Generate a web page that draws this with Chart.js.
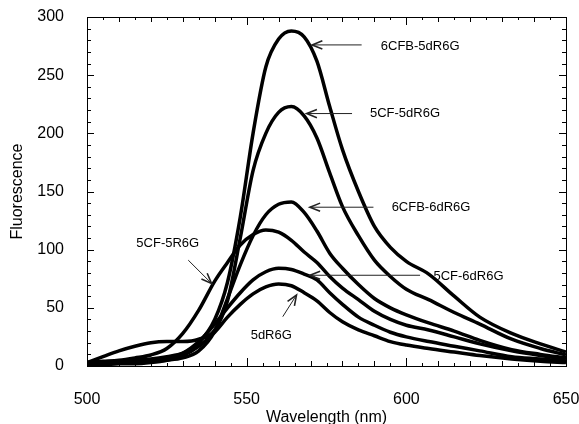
<!DOCTYPE html>
<html>
<head>
<meta charset="utf-8">
<script src="https://cdn.jsdelivr.net/npm/chart.js@4/dist/chart.umd.min.js"></script>
<style>
  body { margin: 0; background: #fff; }
</style>
</head>
<body>
<canvas id="grafico" width="579" height="424"></canvas>
<script>
// Comprimentos de onda (nm)
const wavelengths = [500, 505, 510, 515, 520, 525, 530, 535, 540, 544, 548, 552, 556, 560, 564, 568, 572, 576, 580, 585, 590, 595, 600, 607, 615, 623, 633, 642, 650];

// Fluorescência de cada sonda
const fl6CFB5dR6G = [3, 3, 4, 5, 6, 8, 11, 20, 40, 72, 128, 200, 257, 281, 288, 283, 262, 223, 186, 150, 120, 102, 90, 79, 60, 42, 28, 19, 12];
const fl5CF5dR6G  = [3, 8, 13, 17, 20, 21, 21, 23, 31, 56, 110, 168, 200, 218, 223, 215, 196, 166, 137, 112, 91, 77, 66, 57, 46, 36, 23, 15, 9.5];
const fl6CFB6dR6G = [2, 2, 3, 3, 4, 5, 7, 13, 30, 58, 87, 112, 130, 139, 141, 132, 116, 97, 84, 70, 58, 50, 44, 37, 30, 22, 14, 10, 7];
const fl5CF5R6G   = [3, 4, 5, 7, 9.5, 15, 28, 48, 73, 89, 104, 113, 117, 115, 108, 98, 89, 77, 67, 57, 47, 40, 35, 31, 25, 19, 13, 9, 6];
const fl5CF6dR6G  = [2, 3, 3, 4, 5, 7, 11, 21, 36, 50, 63, 74, 81, 84, 83, 79, 74, 63, 53, 42, 35, 29, 25, 21, 17, 13, 8, 6, 4];
const fl5dR6G     = [1, 1, 2, 2, 3, 5, 9, 17, 29, 42, 53, 62, 68, 70.5, 69, 63, 56, 46, 38, 31, 26, 21, 18, 15, 12, 9, 6, 4, 3];

const seriesNames = ['6CFB-5dR6G', '5CF-5dR6G', '6CFB-6dR6G', '5CF-5R6G', '5CF-6dR6G', '5dR6G'];
const seriesValues = [fl6CFB5dR6G, fl5CF5dR6G, fl6CFB6dR6G, fl5CF5R6G, fl5CF6dR6G, fl5dR6G];

const xTicks = [500, 550, 600, 650];
const yTicks = [0, 50, 100, 150, 200, 250, 300];

const FONT = '"Liberation Sans", Arial, Helvetica, sans-serif';

// Rótulos com setas (coordenadas em dados)
const rotulos = [
    { text: '6CFB-5dR6G', x: 592, y: 275, align: 'left', from: [586, 276], to: [570.5, 276] },
    { text: '5CF-5dR6G', x: 588.6, y: 217, align: 'left', from: [583, 217], to: [568.8, 217] },
    { text: '6CFB-6dR6G', x: 595.4, y: 136.5, align: 'left', from: [589.7, 136.5], to: [569.8, 136.5] },
    { text: '5CF-6dR6G', x: 608.5, y: 77, align: 'left', from: [604.3, 78], to: [569.8, 78] },
    { text: '5CF-5R6G', x: 525.3, y: 105.5, align: 'center', from: [531.7, 91], to: [539, 71] },
    { text: '5dR6G', x: 557.7, y: 26, align: 'center', from: [561.3, 42.4], to: [565.6, 61] }
];

// Moldura com marcas para dentro nos quatro lados
const molduraPlugin = {
    id: 'moldura',
    afterDatasetsDraw(chart) {
        const ctx = chart.ctx;
        const a = chart.chartArea;
        const xs = chart.scales.x, ys = chart.scales.y;
        ctx.save();
        ctx.strokeStyle = '#000';
        ctx.lineWidth = 1;
        ctx.strokeRect(a.left + 0.5, a.top + 0.5, a.right - a.left, a.bottom - a.top);
        ctx.beginPath();
        for (let v = 0; v <= 300; v += 10) {
            const y = Math.round(ys.getPixelForValue(v)) + 0.5;
            const len = v % 50 === 0 ? 7 : 4;
            ctx.moveTo(a.left, y); ctx.lineTo(a.left + len, y);
            ctx.moveTo(a.right, y); ctx.lineTo(a.right - len, y);
        }
        for (let v = 500; v <= 650; v += 5) {
            const x = Math.round(xs.getPixelForValue(v)) + 0.5;
            const len = v % 50 === 0 ? 8 : (v % 10 === 0 ? 5 : 3);
            ctx.moveTo(x, a.bottom); ctx.lineTo(x, a.bottom - len);
            ctx.moveTo(x, a.top); ctx.lineTo(x, a.top + len);
        }
        ctx.stroke();
        ctx.restore();
    }
};

const rotulosPlugin = {
    id: 'rotulos',
    afterDraw(chart) {
        const ctx = chart.ctx;
        const xs = chart.scales.x, ys = chart.scales.y;
        ctx.save();
        rotulos.forEach(r => {
            const x1 = xs.getPixelForValue(r.from[0]), y1 = ys.getPixelForValue(r.from[1]);
            const x2 = xs.getPixelForValue(r.to[0]), y2 = ys.getPixelForValue(r.to[1]);
            ctx.strokeStyle = '#222';
            ctx.lineWidth = 1;
            ctx.beginPath();
            ctx.moveTo(x1, y1); ctx.lineTo(x2, y2);
            ctx.stroke();
            // ponta da seta
            const ang = Math.atan2(y2 - y1, x2 - x1);
            ctx.lineWidth = 1.6;
            ctx.beginPath();
            ctx.moveTo(x2 - 11 * Math.cos(ang - 0.38), y2 - 11 * Math.sin(ang - 0.38));
            ctx.lineTo(x2, y2);
            ctx.lineTo(x2 - 11 * Math.cos(ang + 0.38), y2 - 11 * Math.sin(ang + 0.38));
            ctx.stroke();
            ctx.fillStyle = '#000';
            ctx.font = '13px ' + FONT;
            ctx.textAlign = r.align;
            ctx.textBaseline = 'middle';
            ctx.fillText(r.text, xs.getPixelForValue(r.x), ys.getPixelForValue(r.y));
        });
        ctx.restore();
    }
};

const grafico = new Chart(document.getElementById('grafico'), {
    type: 'line',
    data: {
        datasets: seriesValues.map((vals, i) => ({
            label: seriesNames[i],
            data: wavelengths.map((w, j) => ({ x: w, y: vals[j] })),
            borderColor: '#000',
            borderWidth: 3.5,
            pointRadius: 0,
            fill: false,
            cubicInterpolationMode: 'monotone'
        }))
    },
    options: {
        responsive: false,
        animation: false,
        layout: { padding: { top: 17, right: 13, left: 0, bottom: 0 } },
        plugins: {
            legend: { display: false },
            tooltip: { enabled: false }
        },
        scales: {
            x: {
                type: 'linear',
                min: 500,
                max: 650,
                afterBuildTicks: s => { s.ticks = xTicks.map(v => ({ value: v })); },
                afterFit: s => { s.height = 58; s.paddingLeft = 0; s.paddingRight = 0; },
                grid: { display: false },
                border: { display: false },
                ticks: { color: '#000', padding: 16, maxRotation: 0, font: { size: 16, family: FONT } },
                title: {
                    display: true,
                    text: 'Wavelength (nm)',
                    color: '#000',
                    padding: 0,
                    font: { size: 16, family: FONT, lineHeight: 0.75 }
                }
            },
            y: {
                min: 0,
                max: 300,
                afterBuildTicks: s => { s.ticks = yTicks.map(v => ({ value: v })); },
                afterFit: s => { s.width = 87; s.paddingTop = 0; s.paddingBottom = 0; },
                grid: { display: false },
                border: { display: false },
                ticks: { color: '#000', padding: 15, font: { size: 16, family: FONT } },
                title: {
                    display: true,
                    text: 'Fluorescence',
                    color: '#000',
                    padding: { top: 12, bottom: 0 },
                    font: { size: 16, family: FONT, lineHeight: 0.75 }
                }
            }
        }
    },
    plugins: [molduraPlugin, rotulosPlugin]
});
</script>
</body>
</html>
